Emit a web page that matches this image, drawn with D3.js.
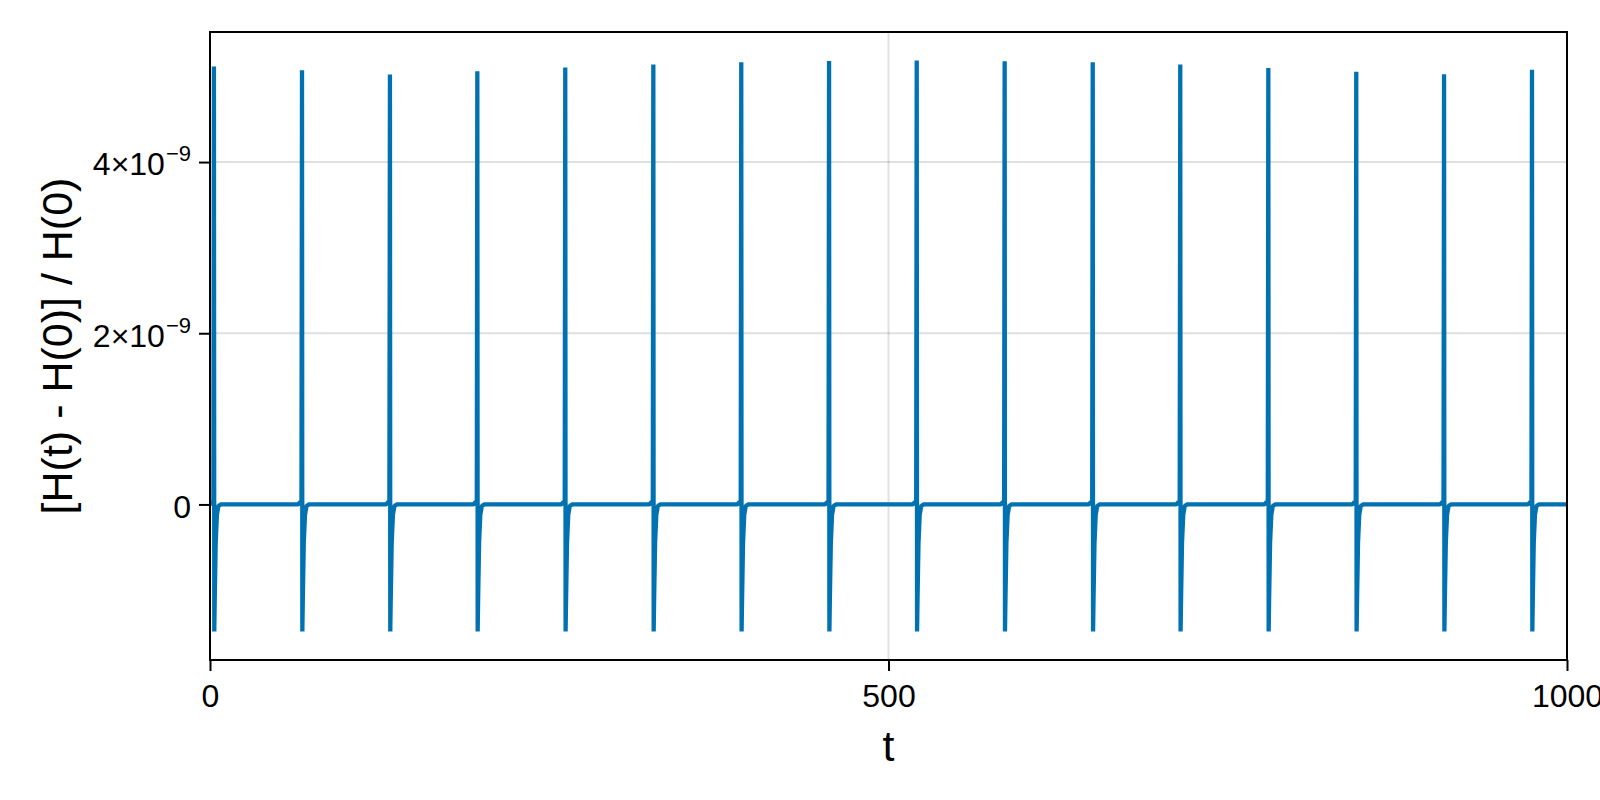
<!DOCTYPE html>
<html>
<head>
<meta charset="utf-8">
<script src="https://cdn.jsdelivr.net/npm/d3@7"></script>
<style>
  html, body { margin: 0; padding: 0; background: #ffffff; }
  svg { display: block; }
  text { font-family: "Liberation Sans", Arial, Helvetica, sans-serif; fill: #000; }
</style>
</head>
<body>
<svg id="chart" width="1600" height="800"></svg>
<script>
// ---------------- data ----------------
// times of the close approaches (spikes)
const spikeTimes = [2.9, 67.8, 132.6, 197.0, 261.8, 326.7, 391.5, 456.2,
                    520.8, 585.6, 650.5, 715.0, 779.9, 844.7, 909.4, 974.2];
// maximum relative energy error at each spike (units of 1e-9)
const spikePeaks = [5.117, 5.074, 5.023, 5.062, 5.105, 5.140, 5.167, 5.182,
                    5.186, 5.179, 5.167, 5.140, 5.100, 5.054, 5.027, 5.077];
// minimum relative energy error right after each spike (units of 1e-9)
const spikeTroughs = [-1.484, -1.484, -1.484, -1.484, -1.484, -1.484, -1.484, -1.484,
                      -1.484, -1.484, -1.484, -1.484, -1.484, -1.484, -1.484, -1.484];
// shape around a spike: time offsets and values (1e-9)
const shapeOffsets = [-3.0, -1.2, -0.4, 0.0, 0.25, 0.6, 1.3, 2.2, 3.3, 5.0];
const shapeValues  = [0.0, 0.03, 0.02, "peak", "trough", -1.1, -0.45, -0.12, -0.02, 0.0];
const tRange = [0, 1000];
const xTicks = [0, 500, 1000];
const xTickLabels = ["0", "500", "1000"];
const yTicks = [0, 2e-9, 4e-9];
const yTickMantissa = ["0", "2", "4"];
const yTickExponent = [null, "\u22129", "\u22129"];
const xLabel = "t";
const yLabel = "[H(t) - H(0)] / H(0)";

// ---------------- build series ----------------
const series = [{t: tRange[0], v: 0}];
spikeTimes.forEach((ts, i) => {
  shapeOffsets.forEach((off, j) => {
    let v = shapeValues[j];
    if (v === "peak") v = spikePeaks[i];
    else if (v === "trough") v = spikeTroughs[i];
    series.push({t: ts + off, v: v * 1e-9});
  });
});
series.push({t: tRange[1], v: 0});
const data = series.filter(d => d.t >= tRange[0] && d.t <= tRange[1]);

// ---------------- layout ----------------
const L = 210, R = 1567, T = 32, B = 660;
const svg = d3.select("#chart");

const x = d3.scaleLinear().domain(tRange).range([L, R]);
const vmin = d3.min(data, d => d.v), vmax = d3.max(data, d => d.v);
const pad = 0.05 * (vmax - vmin);
const y = d3.scaleLinear().domain([vmin - pad, vmax + pad]).range([B, T]);

svg.append("rect").attr("x", 0).attr("y", 0).attr("width", 1600).attr("height", 800).attr("fill", "#fff");

// grid
const grid = svg.append("g");
grid.selectAll("line.gx").data(xTicks).join("line")
  .attr("x1", d => x(d)).attr("x2", d => x(d)).attr("y1", T).attr("y2", B)
  .attr("stroke", "rgba(0,0,0,0.12)").attr("stroke-width", 2);
grid.selectAll("line.gy").data(yTicks).join("line")
  .attr("y1", d => y(d)).attr("y2", d => y(d)).attr("x1", L).attr("x2", R)
  .attr("stroke", "rgba(0,0,0,0.12)").attr("stroke-width", 2);

// clip
svg.append("clipPath").attr("id", "clip").append("rect")
  .attr("x", L).attr("y", T).attr("width", R - L).attr("height", B - T);

// line
const line = d3.line().x(d => x(d.t)).y(d => y(d.v));
svg.append("path").datum(data)
  .attr("clip-path", "url(#clip)")
  .attr("d", line)
  .attr("fill", "none")
  .attr("stroke", "#0072b2")
  .attr("stroke-width", 4.3)
  .attr("stroke-linejoin", "bevel")
  .attr("stroke-linecap", "butt");

// frame
svg.append("rect").attr("x", L).attr("y", T).attr("width", R - L).attr("height", B - T)
  .attr("fill", "none").attr("stroke", "#000").attr("stroke-width", 2);

// x axis ticks
const tickFs = 32;
const xAxis = svg.append("g").attr("transform", `translate(0,${B})`)
  .call(d3.axisBottom(x).tickValues(xTicks).tickFormat((d, i) => xTickLabels[i]).tickSize(11).tickPadding(16));
xAxis.select(".domain").remove();
xAxis.selectAll(".tick line").attr("stroke", "#000").attr("stroke-width", 2);
xAxis.selectAll(".tick text").attr("font-size", tickFs).attr("font-family", "Liberation Sans, Arial, sans-serif")
  .attr("dy", null).attr("y", 47).attr("fill", "#000");

// y axis ticks
const yAxis = svg.append("g").attr("transform", `translate(${L},0)`)
  .call(d3.axisLeft(y).tickValues(yTicks).tickFormat("").tickSize(11));
yAxis.select(".domain").remove();
yAxis.selectAll(".tick line").attr("stroke", "#000").attr("stroke-width", 2);
yAxis.selectAll(".tick").each(function(d, i) {
  const g = d3.select(this);
  g.select("text").remove();
  const txt = g.append("text")
    .attr("x", -19).attr("y", 0.4 * tickFs)
    .attr("text-anchor", "end")
    .attr("font-size", tickFs)
    .attr("font-family", "Liberation Sans, Arial, sans-serif")
    .attr("fill", "#000");
  if (yTickExponent[i] === null) {
    txt.text(yTickMantissa[i]);
  } else {
    txt.append("tspan").text(yTickMantissa[i] + "\u00d710");
    txt.append("tspan").attr("dy", -14).attr("dx", 1).attr("font-size", 22).text(yTickExponent[i]);
  }
});

// axis labels
const labFs = 43;
svg.append("text").attr("x", (L + R) / 2).attr("y", 761)
  .attr("text-anchor", "middle").attr("font-size", labFs).text(xLabel);
svg.append("text")
  .attr("transform", `translate(72,${(T + B) / 2}) rotate(-90)`)
  .attr("text-anchor", "middle").attr("font-size", labFs).text(yLabel);
</script>
</body>
</html>
